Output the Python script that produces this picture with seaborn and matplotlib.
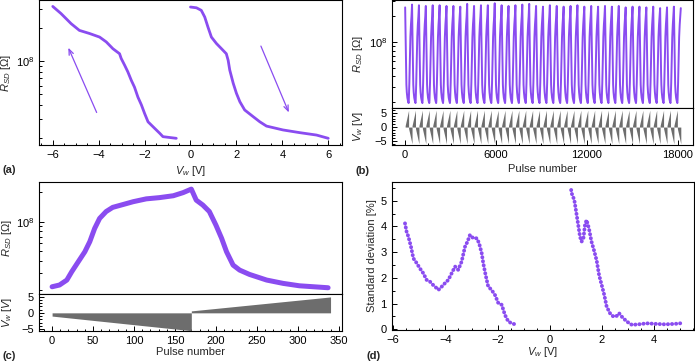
import numpy as np
import matplotlib
matplotlib.use("Agg")
import matplotlib.pyplot as plt
import seaborn as sns
from matplotlib.ticker import MultipleLocator, LogLocator, NullFormatter

# ---- panel (a): R_SD vs write voltage, two sweep branches
a_neg_v = [-6.0, -5.64, -5.2, -4.84, -4.4, -3.96, -3.67, -3.38, -3.09, -3.02, -2.87, -2.73,
           -2.58, -2.44, -2.29, -2.14, -2.0, -1.85, -1.56, -1.34, -1.2, -0.62]
a_neg_r = [3.16e8, 2.72e8, 2.2e8, 1.91e8, 1.79e8, 1.66e8, 1.5e8, 1.3e8, 1.17e8, 1.06e8, 9.2e7, 8.0e7,
           6.7e7, 5.8e7, 4.7e7, 4.0e7, 3.34e7, 2.8e7, 2.44e7, 2.2e7, 2.05e7, 1.98e7]
a_pos_v = [0.0, 0.26, 0.47, 0.62, 0.76, 0.91, 1.13, 1.35, 1.56, 1.64, 1.71, 1.86, 2.0, 2.15,
           2.36, 2.73, 3.02, 3.31, 4.03, 4.76, 5.49, 6.0]
a_pos_r = [3.12e8, 3.07e8, 2.91e8, 2.53e8, 2.05e8, 1.66e8, 1.45e8, 1.3e8, 1.17e8, 1.02e8, 8.3e7, 6.3e7,
           5.1e7, 4.27e7, 3.59e7, 3.12e7, 2.8e7, 2.56e7, 2.36e7, 2.23e7, 2.12e7, 1.98e7]
a_arrow_up = [(-4.04, 3.23e7), (-5.37, 1.40e8)]
a_arrow_down = [(3.02, 1.45e8), (4.33, 3.23e7)]

# ---- panel (b): endurance, 40 cycles
b_period = 455
b_cycles = 40
b_frac = [0, 0.02, 0.05, 0.08, 0.11, 0.14, 0.18, 0.24, 0.32, 0.42, 0.5, 0.53, 0.57, 0.61,
          0.65, 0.7, 0.76, 0.84, 0.92, 1.0]
b_shape = [2.6e8, 1.9e8, 1.4e8, 1.0e8, 6.5e7, 4.3e7, 3.2e7, 2.6e7, 2.25e7, 2.05e7, 1.95e7, 2.1e7,
           2.6e7, 3.4e7, 4.6e7, 7e7, 1.15e8, 1.6e8, 2.0e8, 2.6e8]
b_peaks = [2.55, 2.75, 2.7, 2.65, 2.7, 2.7, 2.65, 2.65, 2.6, 2.8, 2.65, 2.7, 2.7, 2.85, 2.7,
           2.65, 2.7, 2.75, 2.8, 2.65, 2.6, 2.7, 2.65, 2.6, 2.65, 2.7, 2.6, 2.65, 2.6, 2.65,
           2.6, 2.65, 2.55, 2.6, 2.6, 2.55, 2.6, 2.5, 2.55, 2.6, 2.5]
b_vpos = [0.5, 6.0]
b_vneg = [-0.5, -6.0]

# ---- panel (c): one cycle of 340 pulses
c_pulse = [0, 9, 18, 24, 32, 40, 46, 52, 58, 66, 74, 87, 99, 115, 131, 148, 160, 170, 176, 184,
           192, 200, 207, 213, 221, 229, 241, 262, 282, 302, 337]
c_r = [2.17e7, 2.26e7, 2.54e7, 3.09e7, 3.91e7, 4.94e7, 6.25e7, 8.55e7, 1.08e8, 1.27e8, 1.40e8,
       1.50e8, 1.60e8, 1.71e8, 1.76e8, 1.84e8, 1.98e8, 2.15e8, 1.66e8, 1.48e8, 1.27e8, 9.25e7,
       6.77e7, 4.94e7, 3.61e7, 3.21e7, 2.9e7, 2.54e7, 2.35e7, 2.22e7, 2.12e7]
c_neg_x = [0, 170]
c_neg_v = [-1.0, -5.5]
c_pos_x = [170, 340]
c_pos_v = [0.6, 4.9]

# ---- panel (d): standard deviation vs V_w
d_neg_v = [-5.55, -5.49, -5.42, -5.32, -5.23, -5.10, -4.98, -4.85, -4.72, -4.59, -4.47, -4.34,
           -4.27, -4.14, -4.02, -3.89, -3.76, -3.63, -3.51, -3.38, -3.25, -3.15, -3.06, -2.93,
           -2.80, -2.71, -2.61, -2.55, -2.46, -2.36, -2.23, -2.10, -1.97, -1.84, -1.72, -1.59,
           -1.46, -1.33, -1.27]
d_neg_s = [4.12, 3.80, 3.60, 3.21, 2.76, 2.57, 2.37, 2.18, 1.92, 1.85, 1.72, 1.60, 1.53, 1.66,
           1.79, 1.92, 2.18, 2.44, 2.31, 2.63, 3.21, 3.42, 3.67, 3.54, 3.54, 3.35, 2.96, 2.57,
           2.11, 1.66, 1.53, 1.33, 1.01, 0.95, 0.56, 0.30, 0.23, 0.19, 0.26]
d_pos_v = [0.82, 0.84, 0.94, 0.99, 1.05, 1.09, 1.16, 1.22, 1.29, 1.35, 1.41, 1.50, 1.60, 1.71,
           1.80, 1.89, 1.99, 2.09, 2.18, 2.31, 2.44, 2.57, 2.66, 2.76, 2.95, 3.15, 3.40, 3.72,
           4.04, 4.42, 4.81, 5.0]
d_pos_s = [5.42, 5.29, 5.03, 4.71, 4.32, 4.06, 3.60, 3.41, 3.54, 4.06, 4.25, 3.93, 3.41, 3.02,
           2.66, 2.11, 1.72, 1.33, 0.88, 0.62, 0.49, 0.52, 0.62, 0.49, 0.30, 0.17, 0.19, 0.23,
           0.21, 0.19, 0.21, 0.23]

PURPLE = '#8a4cf0'
GRAY = '#6d6d6d'

sns.set_style("ticks")
plt.rcParams['font.family'] = ['Liberation Sans', 'DejaVu Sans']
plt.rcParams['mathtext.fontset'] = 'custom'
plt.rcParams['mathtext.rm'] = 'Liberation Sans'
plt.rcParams['mathtext.it'] = 'Liberation Sans:italic'
plt.rcParams['font.size'] = 8
plt.rcParams['axes.linewidth'] = 0.8

fig = plt.figure(figsize=(6.95, 3.62), dpi=100)


def style(ax):
    ax.tick_params(which='both', direction='in', labelsize=8, width=0.7,
                   top=False, right=False, colors='black')
    ax.tick_params(which='major', length=3.5)
    ax.tick_params(which='minor', length=1.8)
    for s in ax.spines.values():
        s.set_visible(True)
        s.set_color('black')
        s.set_linewidth(0.8)


def log_y(ax):
    ax.set_yscale('log')
    ax.yaxis.set_major_locator(LogLocator(base=10))
    ax.yaxis.set_minor_locator(LogLocator(base=10, subs=np.arange(2, 10)))
    ax.yaxis.set_minor_formatter(NullFormatter())


R_LABEL = r'$R_{SD}$ [Ω]'

# ---------------- (a)
ax_a = fig.add_axes([0.0561, 0.5994, 0.436, 0.400])
sns.lineplot(x=a_neg_v, y=a_neg_r, ax=ax_a, color=PURPLE, lw=2.0, sort=False)
sns.lineplot(x=a_pos_v, y=a_pos_r, ax=ax_a, color=PURPLE, lw=2.0, sort=False)
for tail, head in (a_arrow_up, a_arrow_down):
    ax_a.annotate('', xy=head, xytext=tail,
                  arrowprops=dict(arrowstyle='->,head_length=0.5,head_width=0.2',
                                  color=PURPLE, lw=0.9))
log_y(ax_a)
ax_a.set_ylim(1.72e7, 3.6e8)
ax_a.set_xlim(-6.6, 6.6)
ax_a.xaxis.set_major_locator(MultipleLocator(2))
ax_a.xaxis.set_minor_locator(MultipleLocator(0.5))
ax_a.set_xlabel(r'$V_w$ [V]', labelpad=3)
ax_a.set_ylabel(R_LABEL)
ax_a.yaxis.set_label_coords(-0.085, 0.5)
style(ax_a)

# ---------------- (b)
ax_b = fig.add_axes([0.564, 0.7017, 0.433, 0.2973])
ax_b2 = fig.add_axes([0.564, 0.5994, 0.433, 0.1023], sharex=ax_b)
bx, br = [], []
for i in range(b_cycles):
    shape = list(b_shape)
    shape[0] = b_peaks[i] * 1e8
    shape[-1] = b_peaks[i + 1] * 1e8
    bx.extend((i + np.array(b_frac)) * b_period)
    br.extend(shape)
sns.lineplot(x=bx, y=br, ax=ax_b, color=PURPLE, lw=1.4, sort=False)
log_y(ax_b)
ax_b.set_ylim(1.71e7, 3.08e8)
ax_b.set_ylabel(R_LABEL)
style(ax_b)
ax_b.tick_params(axis='x', which='both', bottom=False, labelbottom=False)
for i in range(b_cycles):
    x0 = i * b_period
    ax_b2.fill_between([x0, x0 + b_period / 2], 0, b_vpos, color=GRAY, lw=0)
    ax_b2.fill_between([x0 + b_period / 2, x0 + b_period], 0, b_vneg, color=GRAY, lw=0)
ax_b2.set_ylim(-6.4, 6.8)
ax_b2.set_xlim(-870, 19000)
ax_b2.yaxis.set_major_locator(MultipleLocator(5))
ax_b2.yaxis.set_minor_locator(MultipleLocator(1))
ax_b2.xaxis.set_major_locator(MultipleLocator(6000))
ax_b2.xaxis.set_minor_locator(MultipleLocator(1500))
ax_b2.set_xlabel('Pulse number', labelpad=3)
ax_b2.set_ylabel(r'$V_w$ [$V$]')
style(ax_b2)
ax_b.yaxis.set_label_coords(-0.088, 0.5)
ax_b2.yaxis.set_label_coords(-0.088, 0.5)

# ---------------- (c)
ax_c = fig.add_axes([0.0561, 0.1878, 0.436, 0.3094])
ax_c2 = fig.add_axes([0.0561, 0.0856, 0.436, 0.1022], sharex=ax_c)
sns.lineplot(x=c_pulse, y=c_r, ax=ax_c, color=PURPLE, lw=3.6, sort=False)
log_y(ax_c)
ax_c.set_ylim(1.83e7, 2.54e8)
ax_c.set_ylabel(R_LABEL)
style(ax_c)
ax_c.tick_params(axis='x', which='both', bottom=False, labelbottom=False)
ax_c2.fill_between(c_neg_x, 0, c_neg_v, color=GRAY, lw=0)
ax_c2.fill_between(c_pos_x, 0, c_pos_v, color=GRAY, lw=0)
ax_c2.set_ylim(-5.6, 5.8)
ax_c2.set_xlim(-16, 354)
ax_c2.yaxis.set_major_locator(MultipleLocator(5))
ax_c2.yaxis.set_minor_locator(MultipleLocator(1))
ax_c2.xaxis.set_major_locator(MultipleLocator(50))
ax_c2.xaxis.set_minor_locator(MultipleLocator(10))
ax_c2.set_xlabel('Pulse number', labelpad=1)
ax_c2.set_ylabel(r'$V_w$ [$V$]')
style(ax_c2)
ax_c.yaxis.set_label_coords(-0.083, 0.5)
ax_c2.yaxis.set_label_coords(-0.083, 0.5)

# ---------------- (d)
ax_d = fig.add_axes([0.5636, 0.0884, 0.435, 0.4088])
for vv, ss in ((d_neg_v, d_neg_s), (d_pos_v, d_pos_s)):
    sns.lineplot(x=vv, y=ss, ax=ax_d, color=PURPLE, lw=2.8, sort=False,
                 linestyle=(0, (0.05, 1.0)), dash_capstyle='round')
ax_d.set_xlim(-6.06, 5.53)
ax_d.set_ylim(-0.03, 5.73)
ax_d.xaxis.set_major_locator(MultipleLocator(2))
ax_d.xaxis.set_minor_locator(MultipleLocator(0.5))
ax_d.yaxis.set_major_locator(MultipleLocator(1))
ax_d.yaxis.set_minor_locator(MultipleLocator(0.5))
ax_d.set_xlabel(r'$V_w$ [V]', labelpad=0)
ax_d.set_ylabel('Standard deviation [%]')
ax_d.yaxis.set_label_coords(-0.05, 0.5)
style(ax_d)

for ax in (ax_a, ax_b, ax_c, ax_d):
    if ax.get_legend() is not None:
        ax.get_legend().remove()

# panel letters
fig.text(0.004, 0.530, '(a)', fontweight='bold', va='center', ha='left')
fig.text(0.511, 0.528, '(b)', fontweight='bold', va='center', ha='left')
fig.text(0.004, 0.016, '(c)', fontweight='bold', va='center', ha='left')
fig.text(0.528, 0.016, '(d)', fontweight='bold', va='center', ha='left')

fig.savefig('out.png', dpi=100)
